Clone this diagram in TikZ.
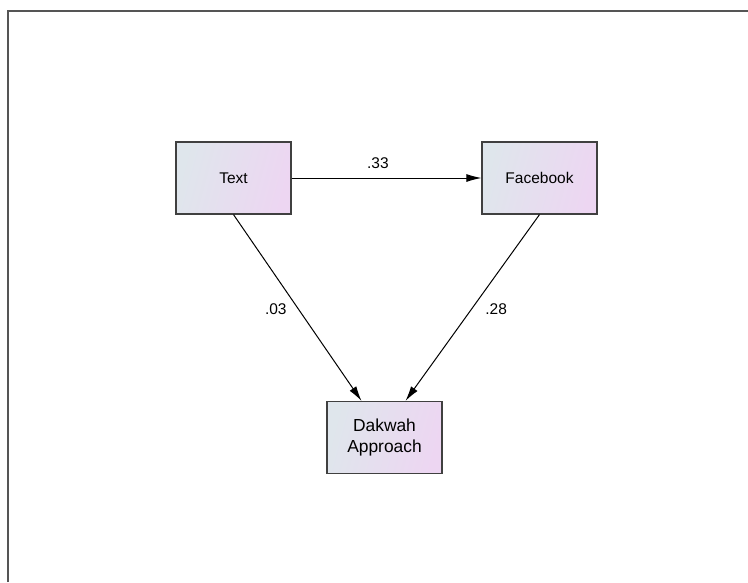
\documentclass[tikz,border=0pt]{standalone}
\usepackage{fontspec}
\setmainfont{Liberation Sans}
\usetikzlibrary{
  arrows.meta,
  positioning,
  calc
}
\definecolor{boxleft}{HTML}{DFE6EC}
\definecolor{boxright}{HTML}{EDD6F2}
\definecolor{framegray}{HTML}{555555}

\begin{document}
\begin{tikzpicture}[
    x=1pt, y=-1pt,
    font=\fontsize{15.5}{18}\selectfont,
    varbox/.style={
      draw=black!75,
      line width=1.2pt,
      left color=boxleft,
      right color=boxright,
      shading angle=75,
      minimum width=115pt,
      minimum height=72pt,
      align=center,
      inner sep=2pt
      },
    effect/.style={
      draw=black,
      line width=1pt,
      -{Latex[length=15pt,width=8pt]}
      },
    coef/.style={font=\fontsize{15.5}{18}\selectfont, inner sep=0pt}
    ]

\useasboundingbox (0,0) rectangle (748,582);
\draw [framegray, line width=1.4pt] (8,582) -- (8,11) -- (748,11);

\node [varbox] (text) at (233.5,178) {Text};
\node [varbox] (fb) at (539.5,178) {Facebook};
\node [varbox, font=\fontsize{17.4}{21}\selectfont] (dakwah) at (384.5,437.5) {Dakwah\\Approach};

\draw [effect] (text.east) -- (fb.west)
  node [coef, pos=0.455, above=9pt] {.33};
\draw [effect] (text.south) -- ([xshift=-23pt]dakwah.north)
  node [coef, pos=0.51, xshift=-23pt] {.03};
\draw [effect] (fb.south) -- ([xshift=21pt]dakwah.north)
  node [coef, pos=0.51, xshift=25pt] {.28};
\end{tikzpicture}
\end{document}
